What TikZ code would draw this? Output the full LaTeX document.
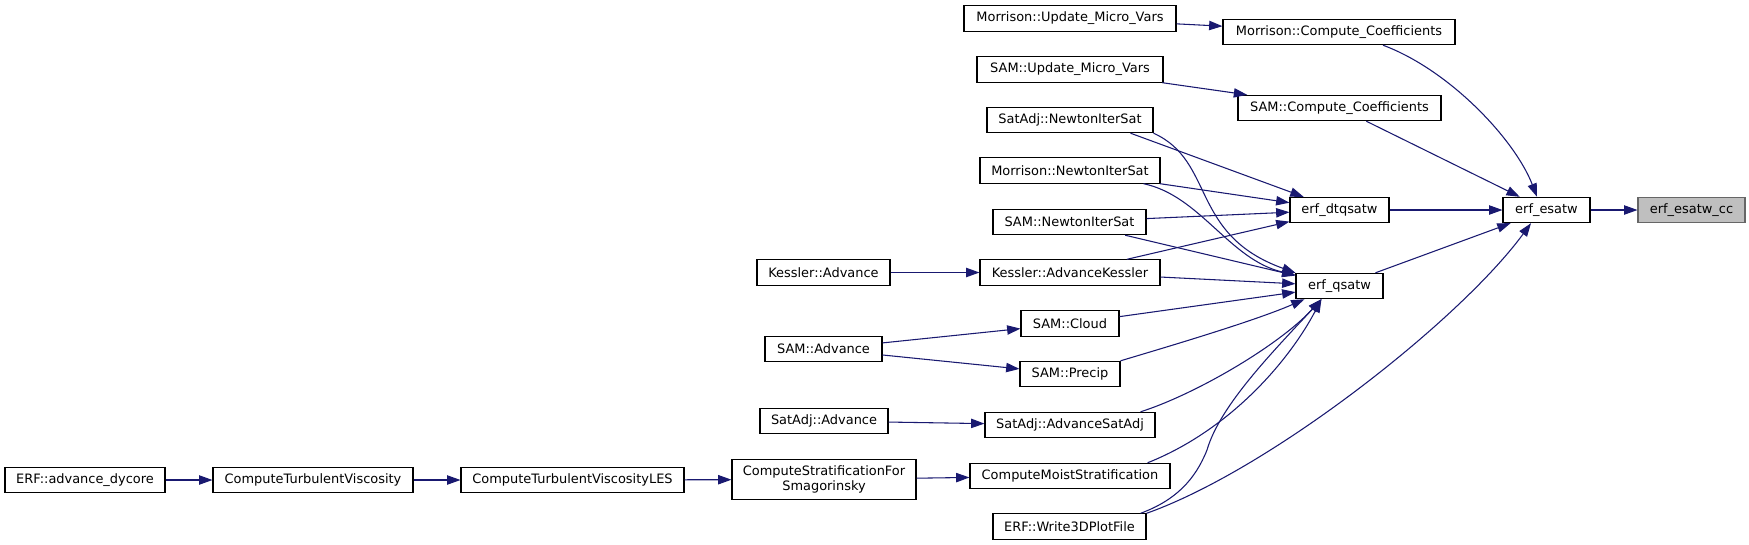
\documentclass[tikz,border=0pt]{standalone}
\usepackage{fontspec}
\setmainfont{DejaVu Sans}
\definecolor{edgeblue}{RGB}{25,25,112}
\definecolor{selfgrey}{RGB}{191,191,191}
\definecolor{selfline}{RGB}{102,102,102}
\usetikzlibrary{arrows.meta,calc}

\begin{document}
\begin{tikzpicture}[
    x=0.75pt, y=-0.75pt,
    fn/.style={rectangle, draw=black, fill=white, line width=0.8pt, minimum height=19pt, inner sep=0pt, font=\fontsize{9.7}{11.5}\selectfont},
    selfnode/.style={fill=selfgrey, draw=selfline},
    wd/.style={minimum width=#1*0.75pt},
    call/.style={-{Triangle[length=10pt,width=7pt]}, draw=edgeblue, line width=0.8pt}
]
\useasboundingbox (0,0) rectangle (1749,544);

% Called function and its direct callers
\node[fn, selfnode, wd=107] (esatwcc) at (1691.5,210) {erf\_esatw\_cc};
\node[fn, wd=87] (esatw) at (1546.5,210) {erf\_esatw};
\node[fn, wd=99] (dtqsatw) at (1339.5,210) {erf\_dtqsatw};
\node[fn, wd=87] (qsatw) at (1339.5,286) {erf\_qsatw};
\node[fn, wd=232] (mcc) at (1339,32) {Morrison::Compute\_Coefficients};
\node[fn, wd=203] (scc) at (1339.5,108) {SAM::Compute\_Coefficients};

% Middle column
\node[fn, wd=212] (mumv) at (1070,18.5) {Morrison::Update\_Micro\_Vars};
\node[fn, wd=186] (sumv) at (1070,69.5) {SAM::Update\_Micro\_Vars};
\node[fn, wd=166] (satnis) at (1070,120) {SatAdj::NewtonIterSat};
\node[fn, wd=180] (mornis) at (1070,170.5) {Morrison::NewtonIterSat};
\node[fn, wd=153] (samnis) at (1069.5,222) {SAM::NewtonIterSat};
\node[fn, wd=180] (kessak) at (1070,272.5) {Kessler::AdvanceKessler};
\node[fn, wd=98] (samcloud) at (1070,323.5) {SAM::Cloud};
\node[fn, wd=100] (samprecip) at (1070,374) {SAM::Precip};
\node[fn, wd=170] (satasa) at (1070,425) {SatAdj::AdvanceSatAdj};
\node[fn, wd=200] (cms) at (1070,476) {ComputeMoistStratification};
\node[fn, wd=153] (w3d) at (1069.5,526.5) {ERF::Write3DPlotFile};

% Left columns
\node[fn, wd=133] (kessadv) at (823.5,272.5) {Kessler::Advance};
\node[fn, wd=117] (samadv) at (823.5,349) {SAM::Advance};
\node[fn, wd=128] (satadv) at (824,421) {SatAdj::Advance};
\node[fn, wd=184, minimum height=30pt, align=center] (csfs) at (824,479.5) {ComputeStratificationFor\\Smagorinsky};
\node[fn, wd=223] (ctvles) at (572.5,480) {ComputeTurbulentViscosityLES};
\node[fn, wd=200] (ctv) at (313,480) {ComputeTurbulentViscosity};
\node[fn, wd=160] (erfadv) at (85,480) {ERF::advance\_dycore};

% Calls into erf_esatw
\draw[call] (esatw) -- (esatwcc);
\draw[call] (dtqsatw) -- (esatw);
\draw[call] (qsatw) -- (esatw);
\draw[call] (scc) -- (esatw);
\draw[call] ($(mcc.south)+(44,0)$) .. controls +(67,25) and +(-22,-57) .. ($(esatw.north)+(-9.5,0)$);
\draw[call] (w3d.north east) .. controls +(124,-44) and +(-71,97) .. ($(esatw.south)+(-15.5,0)$);
\draw[call] (mumv) -- (mcc);
\draw[call] (sumv) -- (scc);

% Calls into erf_dtqsatw
\draw[call] ($(satnis.south east)+(-23,0)$) -- (dtqsatw);
\draw[call] (mornis) -- (dtqsatw);
\draw[call] (samnis) -- (dtqsatw);
\draw[call] (kessak) -- (dtqsatw);

% Calls into erf_qsatw
\draw[call] (satnis.south east) .. controls +(62,28) and +(-106,-38) .. (qsatw.north west);
\draw[call] ($(mornis.south east)+(-17,0)$) .. controls +(57,12) and +(-66,-15) .. ($(qsatw.west)+(0,-11)$);
\draw[call] (samnis) -- (qsatw);
\draw[call] (kessak) -- (qsatw);
\draw[call] (samcloud) -- (qsatw);
\draw[call] (samprecip.north east) .. controls +(40,-12) and +(-50,22) .. ($(qsatw.south west)+(9,0)$);
\draw[call] ($(satasa.north east)+(-15,0)$) .. controls +(55,-17.5) and +(-42,46) .. ($(qsatw.south west)+(26,0)$);
\draw[call] ($(cms.north east)+(-23,0)$) .. controls +(83,-33) and +(-32,61) .. ($(qsatw.south west)+(26,0)$);
\draw[call] ($(w3d.north east)+(-6,0)$) .. controls +(35,-13) and +(-12,30) .. (1207,450) .. controls +(13,-45) and +(-47,51) .. ($(qsatw.south west)+(26,0)$);

% Outer callers
\draw[call] (kessadv) -- (kessak);
\draw[call] (samadv) -- (samcloud);
\draw[call] (samadv) -- (samprecip);
\draw[call] (satadv) -- (satasa);
\draw[call] (csfs) -- (cms);
\draw[call] (ctvles) -- (csfs);
\draw[call] (ctv) -- (ctvles);
\draw[call] (erfadv) -- (ctv);

\end{tikzpicture}
\end{document}
